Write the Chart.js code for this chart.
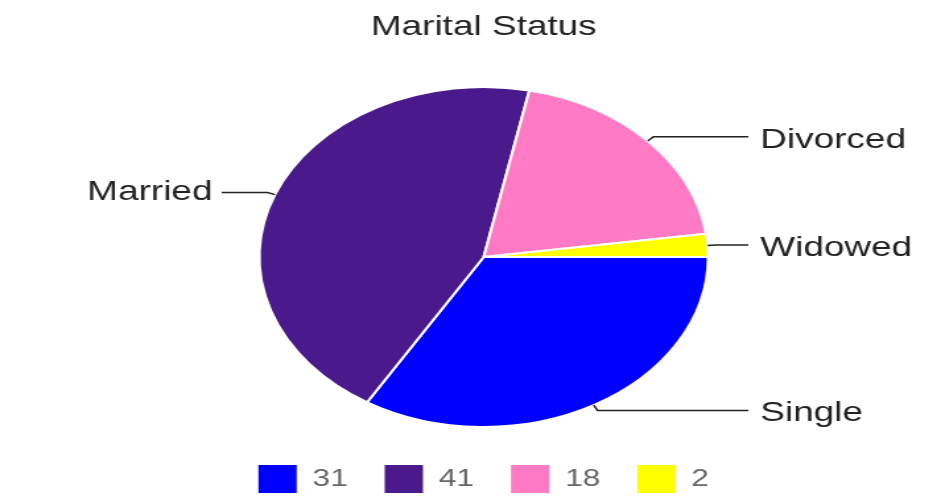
<!DOCTYPE html>
<html>
<head>
<meta charset="utf-8">
<script src="https://cdn.jsdelivr.net/npm/chart.js@4/dist/chart.umd.min.js"></script>
<style>
   html, body { margin: 0; padding: 0; background: #fff; overflow: hidden; }
   /* the reference is a stretched picture, so the chart is squeezed then widened */
   #chart-marital { display: block; transform: scaleX(1.3198); transform-origin: 0 0; }
</style>
</head>
<body>
<canvas id="chart-marital" width="716" height="497"></canvas>
<script>
const categories = ['Single', 'Married', 'Divorced', 'Widowed'];
const values = [31, 41, 18, 2];
const sliceColors = ['#0000ff', '#4a1a8c', '#ff7ac4', '#ffff00'];

let maritalCanvas = document.getElementById('chart-marital');

// names next to the slices with a little leader line
const outLabels = {
   id: 'outLabels',
   afterDatasetsDraw(chart) {
      const ctx = chart.ctx;
      const arcs = chart.getDatasetMeta(0).data;
      ctx.save();
      ctx.strokeStyle = '#222';
      ctx.lineWidth = 1.5;
      ctx.fillStyle = '#222';
      ctx.font = '28px "Liberation Sans", Arial, sans-serif';
      ctx.textBaseline = 'middle';
      arcs.forEach((arc, i) => {
         const mid = (arc.startAngle + arc.endAngle) / 2;
         const r = arc.outerRadius;
         const x0 = arc.x + Math.cos(mid) * r;
         const y0 = arc.y + Math.sin(mid) * r;
         const x1 = arc.x + Math.cos(mid) * (r + 6);
         const y1 = arc.y + Math.sin(mid) * (r + 6);
         const right = Math.cos(mid) >= 0;
         const x2 = right ? 567 : 168;
         ctx.beginPath();
         ctx.moveTo(x0, y0);
         ctx.lineTo(x1, y1);
         ctx.lineTo(x2, y1);
         ctx.stroke();
         ctx.textAlign = right ? 'left' : 'right';
         ctx.fillText(categories[i], right ? x2 + 9 : x2 - 7, y1 + (right ? 3 : 0));
      });
      ctx.restore();
   }
};

let maritalData = {
   labels: categories,
   datasets: [{
      data: values,
      backgroundColor: sliceColors,
      borderColor: '#fff',
      borderWidth: 2,
      radius: 170
   }]
};

let maritalOptions = {
   responsive: false,
   devicePixelRatio: 1,
   animation: false,
   rotation: 90,
   layout: {
      padding: { left: 17, right: 0, top: 0, bottom: -6 }
   },
   plugins: {
      title: {
         display: true,
         text: 'Marital Status',
         color: '#222',
         font: { family: '"Liberation Sans", Arial, sans-serif', size: 28, weight: 'normal', lineHeight: 1.2 },
         padding: { top: 10, bottom: 33.4 }
      },
      legend: {
         position: 'bottom',
         labels: {
            boxWidth: 29,
            boxHeight: 28,
            padding: 28,
            color: '#666',
            font: { family: '"Liberation Sans", Arial, sans-serif', size: 24 },
            generateLabels(chart) {
               const items = Chart.overrides.pie.plugins.legend.labels.generateLabels(chart);
               items.forEach((item, i) => {
                  item.text = String(values[i]);
                  item.lineWidth = 0;
               });
               return items;
            }
         }
      },
      tooltip: { enabled: false }
   }
};

let maritalChart = new Chart(maritalCanvas, {
   type: 'pie',
   data: maritalData,
   options: maritalOptions,
   plugins: [outLabels]
});
</script>
</body>
</html>
